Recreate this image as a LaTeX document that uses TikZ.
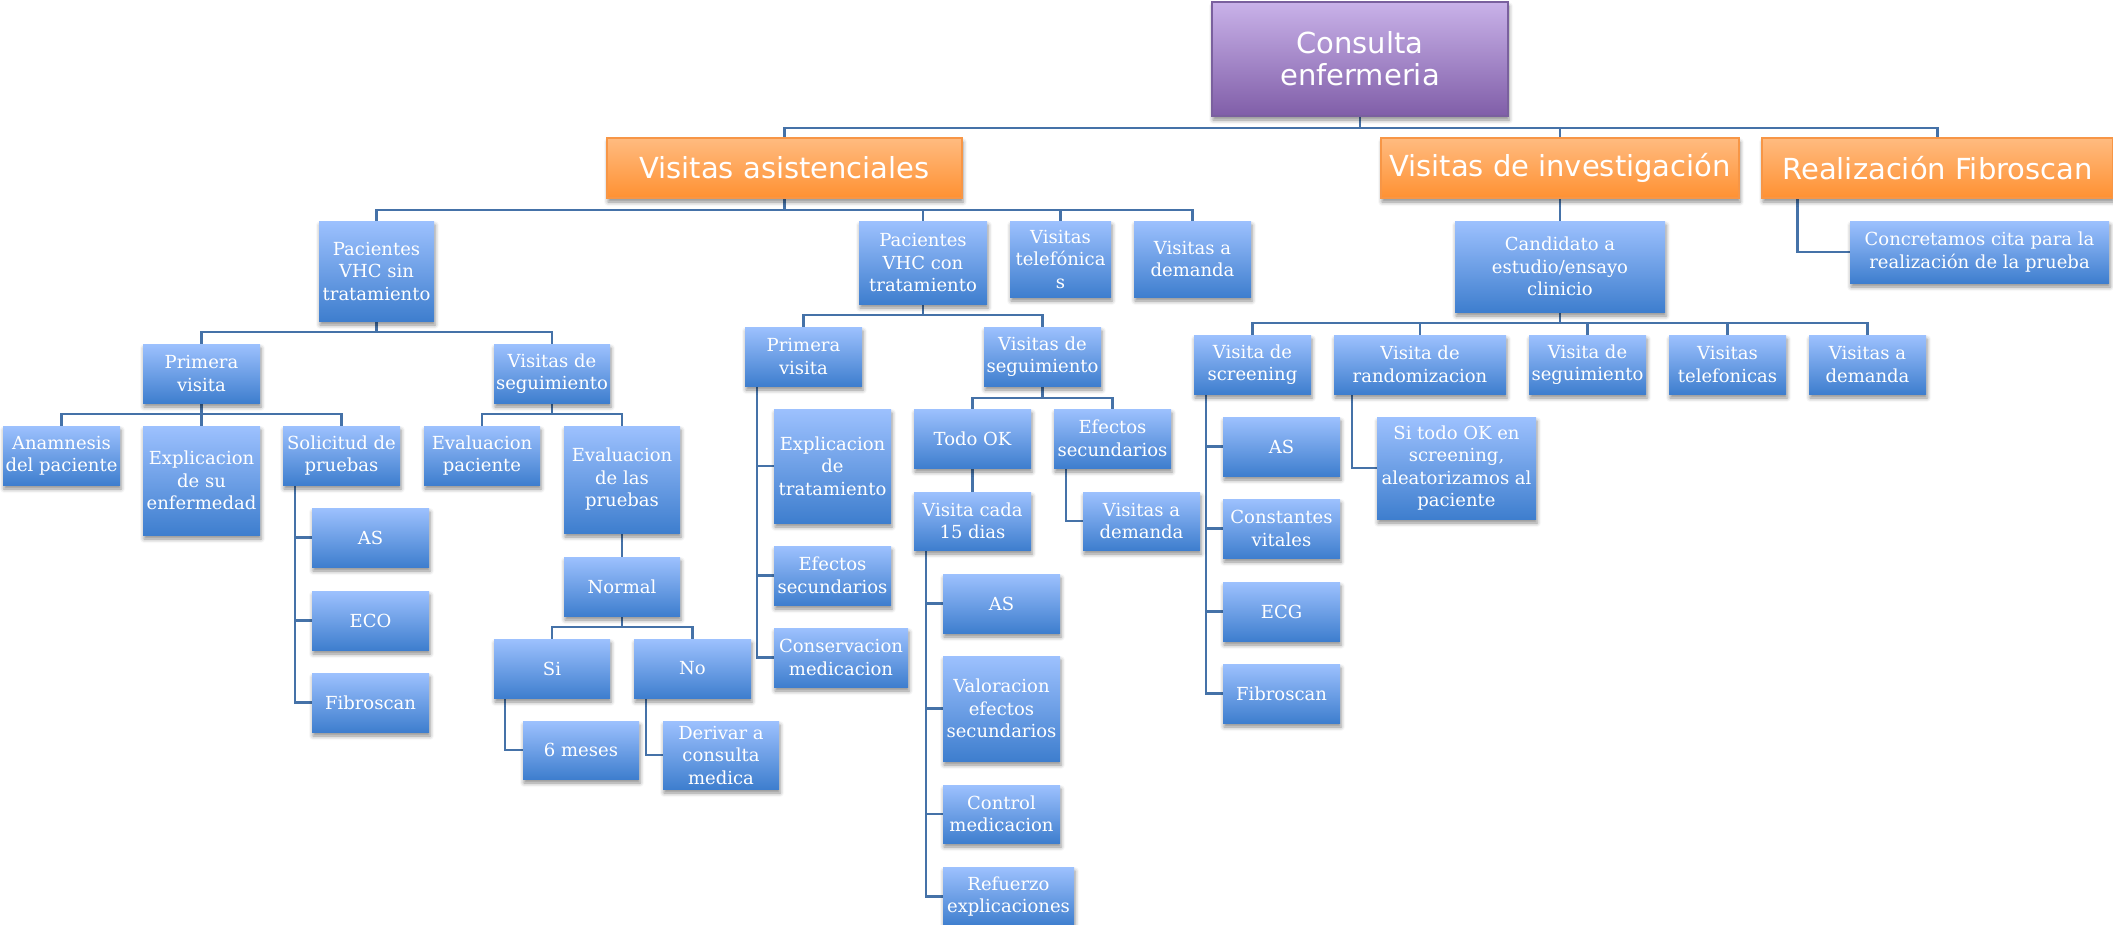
\documentclass[tikz,border=0pt]{standalone}
\usepackage{fontspec}
\setmainfont{DejaVu Serif}
\newfontfamily\topsans{DejaVu Sans}
\usetikzlibrary{shadows.blur,backgrounds}
\definecolor{lineblue}{RGB}{69,114,168}
\definecolor{bluetop}{RGB}{157,193,254}
\definecolor{bluebot}{RGB}{62,126,206}
\definecolor{orangetop}{RGB}{255,187,128}
\definecolor{orangebot}{RGB}{255,145,50}
\definecolor{orangeedge}{RGB}{247,150,70}
\definecolor{purpletop}{RGB}{201,178,233}
\definecolor{purplebot}{RGB}{128,94,168}
\definecolor{purpleedge}{RGB}{122,96,158}
\newcommand\bx[7]{\node[#1,minimum width={(#5)-(#3)},minimum height={(#6)-(#4)}] (#2) at ({((#3)+(#5))/2},{((#4)+(#6))/2}) {#7};}
\tikzset{
  base/.style={inner sep=0pt, align=center, text=white,
    blur shadow={shadow xshift=1pt, shadow yshift=-4pt, shadow blur radius=4pt, shadow opacity=45}},
  bbox/.style={base, top color=bluetop, bottom color=bluebot, font=\fontsize{18}{22.5}\selectfont},
  obox/.style={base, top color=orangetop, bottom color=orangebot, draw=orangeedge, line width=1.2pt,
    font=\topsans\fontsize{29}{32}\selectfont},
  pbox/.style={base, top color=purpletop, bottom color=purplebot, draw=purpleedge, line width=1.2pt,
    font=\topsans\fontsize{29}{32}\selectfont},
  conn/.style={draw=lineblue, line width=2.2pt},
}
\begin{document}
\begin{tikzpicture}[x=1pt,y=-1pt]
\useasboundingbox (0,0) rectangle (2113,924);
% top levels
\bx{pbox}{top}{1212}{2}{1508}{116}{Consulta\\enfermeria}
\bx{obox}{va}{607}{138}{962}{198}{Visitas asistenciales}
\bx{obox}{vi}{1381}{138}{1739}{198}{Visitas de investigación}
\bx{obox}{rf}{1762}{138}{2113}{198}{Realización Fibroscan}
% second level
\bx{bbox}{sin}{319}{221}{434}{321}{Pacientes\\VHC sin\\tratamiento}
\bx{bbox}{con}{859}{221}{987}{304}{Pacientes\\VHC con\\tratamiento}
\bx{bbox}{tel}{1010}{221}{1111}{297}{Visitas\\telefónica\\s}
\bx{bbox}{dem}{1134}{221}{1251}{297}{Visitas a\\demanda}
\bx{bbox}{cand}{1455}{221}{1665}{312}{Candidato a\\estudio/ensayo\\clinicio}
\bx{bbox}{conc}{1850}{221}{2109}{283}{Concretamos cita para la\\realización de la prueba}
% sin tratamiento branch
\bx{bbox}{pvA}{143}{344}{260}{403}{Primera\\visita}
\bx{bbox}{vsA}{494}{344}{610}{403}{Visitas de\\seguimiento}
\bx{bbox}{anam}{3}{426}{120}{485}{Anamnesis\\del paciente}
\bx{bbox}{explA}{143}{426}{260}{535}{Explicacion\\de su\\enfermedad}
\bx{bbox}{sol}{283}{426}{400}{485}{Solicitud de\\pruebas}
\bx{bbox}{asA}{312}{508}{429}{567}{AS}
\bx{bbox}{eco}{312}{591}{429}{650}{ECO}
\bx{bbox}{fibA}{312}{673}{429}{732}{Fibroscan}
\bx{bbox}{evp}{424}{426}{540}{485}{Evaluacion\\paciente}
\bx{bbox}{evpr}{564}{426}{680}{533}{Evaluacion\\de las\\pruebas}
\bx{bbox}{normal}{564}{557}{680}{616}{Normal}
\bx{bbox}{si}{494}{639}{610}{698}{Si}
\bx{bbox}{no}{634}{639}{751}{698}{No}
\bx{bbox}{meses}{523}{721}{639}{779}{6 meses}
\bx{bbox}{deriv}{663}{721}{779}{789}{Derivar a\\consulta\\medica}
% con tratamiento branch
\bx{bbox}{pvB}{745}{327}{862}{386}{Primera\\visita}
\bx{bbox}{vsB}{984}{327}{1101}{386}{Visitas de\\seguimiento}
\bx{bbox}{explB}{774}{409}{891}{523}{Explicacion\\de\\tratamiento}
\bx{bbox}{efB}{774}{546}{891}{605}{Efectos\\secundarios}
\bx{bbox}{cons}{774}{628}{908}{687}{Conservacion\\medicacion}
\bx{bbox}{todo}{914}{409}{1031}{468}{Todo OK}
\bx{bbox}{efs}{1054}{409}{1171}{468}{Efectos\\secundarios}
\bx{bbox}{quince}{914}{492}{1031}{550}{Visita cada\\15 dias}
\bx{bbox}{demB}{1083}{492}{1200}{550}{Visitas a\\demanda}
\bx{bbox}{asB}{943}{574}{1060}{633}{AS}
\bx{bbox}{val}{943}{656}{1060}{761}{Valoracion\\efectos\\secundarios}
\bx{bbox}{ctrl}{943}{785}{1060}{843}{Control\\medicacion}
\bx{bbox}{refz}{943}{867}{1074}{926}{Refuerzo\\explicaciones}
% investigacion branch
\bx{bbox}{scr}{1194}{335}{1311}{394}{Visita de\\screening}
\bx{bbox}{rand}{1334}{335}{1506}{394}{Visita de\\randomizacion}
\bx{bbox}{segC}{1529}{335}{1646}{394}{Visita de\\seguimiento}
\bx{bbox}{telC}{1669}{335}{1786}{394}{Visitas\\telefonicas}
\bx{bbox}{demC}{1809}{335}{1926}{394}{Visitas a\\demanda}
\bx{bbox}{asC}{1223}{417}{1340}{476}{AS}
\bx{bbox}{cv}{1223}{499}{1340}{558}{Constantes\\vitales}
\bx{bbox}{ecg}{1223}{582}{1340}{641}{ECG}
\bx{bbox}{fibC}{1223}{664}{1340}{723}{Fibroscan}
\bx{bbox}{sito}{1377}{417}{1536}{519}{Si todo OK en\\screening,\\aleatorizamos al\\paciente}
% connectors
\begin{scope}[on background layer]
\foreach \c in {va,vi,rf} \draw[conn] (top.south) -- ++(0,11) -| (\c.north);
\foreach \c in {sin,con,tel,dem} \draw[conn] (va.south) -- ++(0,11) -| (\c.north);
\draw[conn] (vi.south) -- (cand.north);
\draw[conn] ([xshift=36pt]rf.south west) |- (conc.west);
\foreach \c in {pvA,vsA} \draw[conn] (sin.south) -- ++(0,11) -| (\c.north);
\foreach \c in {anam,explA,sol} \draw[conn] (pvA.south) -- ++(0,11) -| (\c.north);
\foreach \c in {asA,eco,fibA} \draw[conn] ([xshift=12pt]sol.south west) |- (\c.west);
\foreach \c in {evp,evpr} \draw[conn] (vsA.south) -- ++(0,11) -| (\c.north);
\draw[conn] (evpr.south) -- (normal.north);
\foreach \c in {si,no} \draw[conn] (normal.south) -- ++(0,11) -| (\c.north);
\draw[conn] ([xshift=11pt]si.south west) |- (meses.west);
\draw[conn] ([xshift=12pt]no.south west) |- (deriv.west);
\foreach \c in {pvB,vsB} \draw[conn] (con.south) -- ++(0,11) -| (\c.north);
\foreach \c in {explB,efB,cons} \draw[conn] ([xshift=12pt]pvB.south west) |- (\c.west);
\foreach \c in {todo,efs} \draw[conn] (vsB.south) -- ++(0,12) -| (\c.north);
\draw[conn] (todo.south) -- (quince.north);
\draw[conn] ([xshift=12pt]efs.south west) |- (demB.west);
\foreach \c in {asB,val,ctrl,refz} \draw[conn] ([xshift=12pt]quince.south west) |- (\c.west);
\foreach \c in {scr,rand,segC,telC,demC} \draw[conn] (cand.south) -- ++(0,11) -| (\c.north);
\foreach \c in {asC,cv,ecg,fibC} \draw[conn] ([xshift=12pt]scr.south west) |- (\c.west);
\draw[conn] ([xshift=18pt]rand.south west) |- (sito.west);
\end{scope}
\end{tikzpicture}
\end{document}
